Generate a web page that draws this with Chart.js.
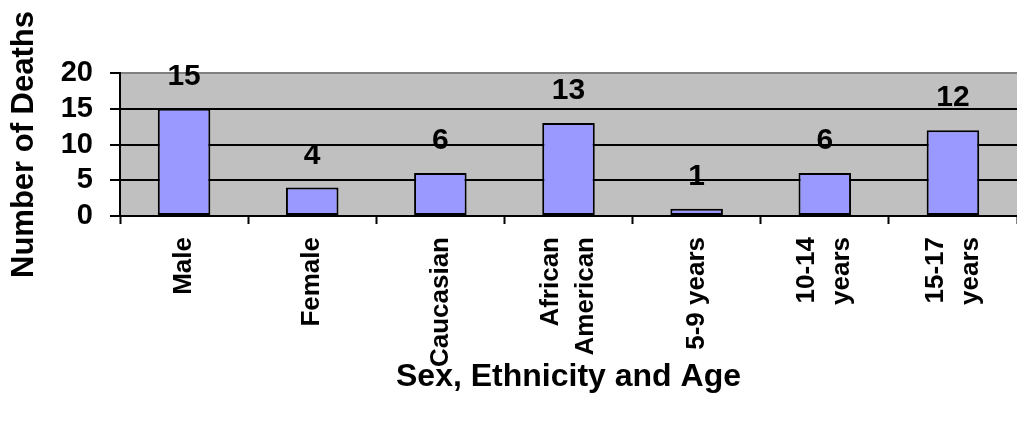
<!DOCTYPE html>
<html>
<head>
<meta charset="utf-8">
<script src="https://cdn.jsdelivr.net/npm/chart.js@4.4.0/dist/chart.umd.min.js"></script>
<style>
  html, body { margin: 0; padding: 0; background: #ffffff; }
  #wrap { width: 1017px; height: 426px; position: relative; }
</style>
</head>
<body>
<div id="wrap"><canvas id="deaths-chart"></canvas></div>
<script>
// Deaths by sex, ethnicity and age group
const categories = [
    'Male',
    'Female',
    'Caucasian',
    ['African', 'American'],
    '5-9 years',
    ['10-14', 'years'],
    ['15-17', 'years']
];
const deaths = [15, 4, 6, 13, 1, 6, 12];
const yTicks = [0, 5, 10, 15, 20];

const fontFamily = "Arial, 'Liberation Sans', Helvetica, sans-serif";

// Grey plot area and white page behind it
const plotBackground = {
    id: 'plotBackground',
    beforeDraw(chart) {
        const ctx = chart.ctx;
        const a = chart.chartArea;
        ctx.save();
        ctx.fillStyle = '#ffffff';
        ctx.fillRect(0, 0, chart.width, chart.height);
        ctx.fillStyle = '#C0C0C0';
        ctx.fillRect(a.left, a.top, a.right - a.left, a.bottom - a.top);
        ctx.restore();
    }
};

// Numbers above each bar
const barValues = {
    id: 'barValues',
    afterDatasetsDraw(chart) {
        const ctx = chart.ctx;
        const meta = chart.getDatasetMeta(0);
        ctx.save();
        ctx.fillStyle = '#000000';
        ctx.font = 'bold 30px ' + fontFamily;
        ctx.textAlign = 'center';
        ctx.textBaseline = 'middle';
        meta.data.forEach((bar, i) => {
            ctx.fillText(String(chart.data.datasets[0].data[i]), bar.x, bar.y - 32);
        });
        ctx.restore();
    }
};

// Vertical category labels, multi-line ones centred on their tick
const categoryLabels = {
    id: 'categoryLabels',
    afterDraw(chart) {
        const scale = chart.scales.x;
        const ctx = chart.ctx;
        const lineHeight = 35;
        ctx.save();
        ctx.fillStyle = '#000000';
        ctx.font = 'bold 26px ' + fontFamily;
        ctx.textAlign = 'right';
        ctx.textBaseline = 'middle';
        chart.data.labels.forEach((label, i) => {
            const lines = Array.isArray(label) ? label : [label];
            const x = scale.getPixelForTick(i);
            lines.forEach((line, j) => {
                const cx = x + (j - (lines.length - 1) / 2) * lineHeight;
                ctx.save();
                ctx.translate(cx, scale.top + 21);
                ctx.rotate(-Math.PI / 2);
                ctx.fillText(line, 0, 0);
                ctx.restore();
            });
        });
        ctx.restore();
    }
};

const ctx = document.getElementById('deaths-chart').getContext('2d');
const deathsChart = new Chart(ctx, {
    type: 'bar',
    data: {
        labels: categories,
        datasets: [{
            label: 'Number of Deaths',
            data: deaths,
            backgroundColor: '#9999FF',
            borderColor: '#000000',
            borderWidth: 2,
            borderSkipped: false,
            barPercentage: 0.41,
            categoryPercentage: 1
        }]
    },
    options: {
        responsive: true,
        maintainAspectRatio: false,
        animation: false,
        layout: { padding: { top: 73, right: 0, bottom: 0, left: 0 } },
        plugins: {
            legend: { display: false },
            tooltip: { enabled: false }
        },
        scales: {
            x: {
                afterFit(scale) {
                    scale.height = 210;
                    scale.paddingLeft = 0;
                    scale.paddingRight = 0;
                },
                grid: {
                    offset: true,
                    drawOnChartArea: false,
                    drawTicks: true,
                    tickLength: 8,
                    tickWidth: 2,
                    tickColor: '#000000'
                },
                border: { color: '#000000', width: 2 },
                ticks: { display: false },
                title: {
                    display: true,
                    text: 'Sex, Ethnicity and Age',
                    color: '#000000',
                    padding: { top: 4, bottom: 30 },
                    font: { family: fontFamily, size: 32, weight: 'bold' }
                }
            },
            y: {
                min: 0,
                max: 20,
                afterFit(scale) { scale.width = 120; },
                afterBuildTicks(scale) {
                    scale.ticks = yTicks.map(v => ({ value: v }));
                },
                grid: {
                    color: c => (c.tick && c.tick.value === 20) ? '#808080' : '#000000',
                    lineWidth: 2,
                    tickLength: 10,
                    tickColor: '#000000'
                },
                border: { color: '#000000', width: 2 },
                ticks: {
                    color: '#000000',
                    autoSkip: false,
                    padding: 17,
                    font: { family: fontFamily, size: 29, weight: 'bold' }
                },
                title: {
                    display: true,
                    text: 'Number of Deaths',
                    color: '#000000',
                    padding: { top: 6, bottom: 4 },
                    font: { family: fontFamily, size: 31, weight: 'bold' }
                }
            }
        }
    },
    plugins: [plotBackground, barValues, categoryLabels]
});
</script>
</body>
</html>
